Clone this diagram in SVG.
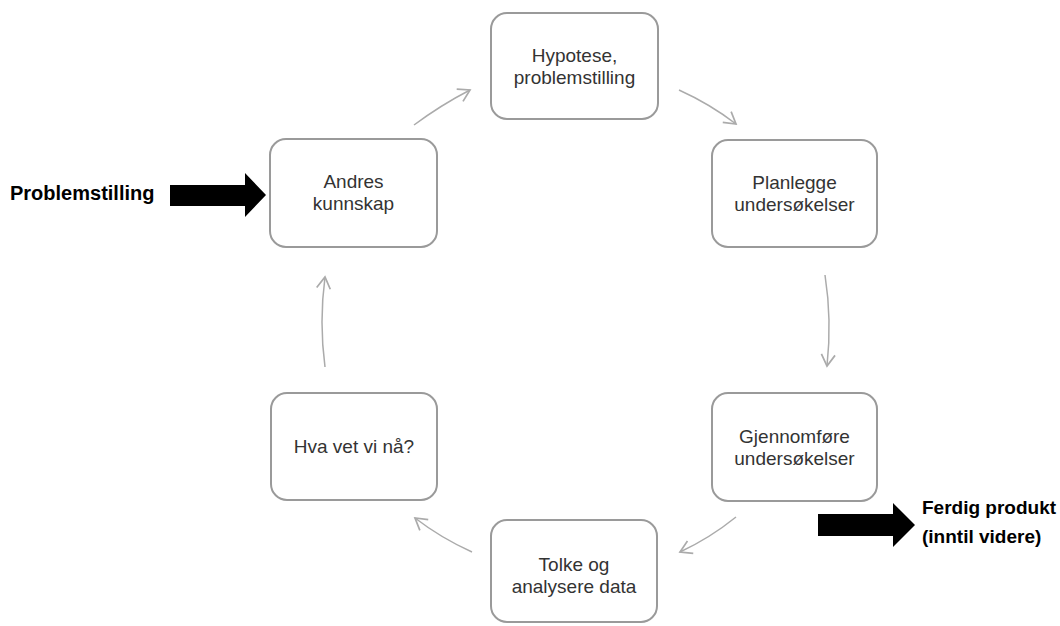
<svg xmlns="http://www.w3.org/2000/svg" width="1060" height="626" viewBox="0 0 1060 626">
<style>
.box{fill:#fff;stroke:#9a9a9a;stroke-width:2}
.lbl{font-family:"Liberation Sans",Arial,sans-serif;font-size:19px;fill:#333;text-anchor:middle}
.bold{font-family:"Liberation Sans",Arial,sans-serif;font-size:19px;font-weight:bold;fill:#000}
.conn{fill:none;stroke:#ababab;stroke-width:1.5;marker-end:url(#chev)}
.big{fill:#000}
</style>
<defs>
<marker id="chev" markerUnits="userSpaceOnUse" markerWidth="16" markerHeight="16" viewBox="-12 -7 14 14" refX="0" refY="0" orient="auto">
<path d="M -10 -6 L 0 0 L -10 6" fill="none" stroke="#ababab" stroke-width="1.5"/>
</marker>
</defs>
<rect width="1060" height="626" fill="#fff"/>
<g id="connectors">
<path class="conn" d="M 414 125 Q 441 105 470 90"/>
<path class="conn" d="M 679 90 Q 710 104 736 124"/>
<path class="conn" d="M 825 275 Q 832 320 827 366"/>
<path class="conn" d="M 736 517 Q 710 538 680 552"/>
<path class="conn" d="M 472 552 Q 441 538 415 518"/>
<path class="conn" d="M 325 367 Q 319 322 325 277"/>
</g>
<g id="n-hypotese">
<rect class="box" x="491" y="13" width="167" height="106" rx="16"/>
<text class="lbl" x="574.5" y="62">Hypotese,</text>
<text class="lbl" x="574.5" y="84">problemstilling</text>
</g>
<g id="n-planlegge">
<rect class="box" x="712" y="140" width="165" height="107" rx="16"/>
<text class="lbl" x="794.5" y="189">Planlegge</text>
<text class="lbl" x="794.5" y="211">undersøkelser</text>
</g>
<g id="n-gjennomfore">
<rect class="box" x="712" y="393" width="165" height="108" rx="16"/>
<text class="lbl" x="794.5" y="443">Gjennomføre</text>
<text class="lbl" x="794.5" y="465">undersøkelser</text>
</g>
<g id="n-tolke">
<rect class="box" x="491" y="520" width="166" height="102" rx="16"/>
<text class="lbl" x="574" y="571">Tolke og</text>
<text class="lbl" x="574" y="593">analysere data</text>
</g>
<g id="n-hvavet">
<rect class="box" x="271" y="393" width="166" height="107" rx="16"/>
<text class="lbl" x="354" y="453">Hva vet vi nå?</text>
</g>
<g id="n-andres">
<rect class="box" x="270" y="139" width="167" height="108" rx="16"/>
<text class="lbl" x="353.5" y="188">Andres</text>
<text class="lbl" x="353.5" y="210">kunnskap</text>
</g>
<g id="in-problemstilling">
<text class="bold" x="10" y="200" style="font-size:20px">Problemstilling</text>
<polygon class="big" points="170,185 245,185 245,173 266,195 245,217 245,206 170,206"/>
</g>
<g id="out-ferdig">
<polygon class="big" points="818,514 893,514 893,503 915,525 893,547 893,536 818,536"/>
<text class="bold" x="922" y="514">Ferdig produkt</text>
<text class="bold" x="922" y="543">(inntil videre)</text>
</g>
</svg>
